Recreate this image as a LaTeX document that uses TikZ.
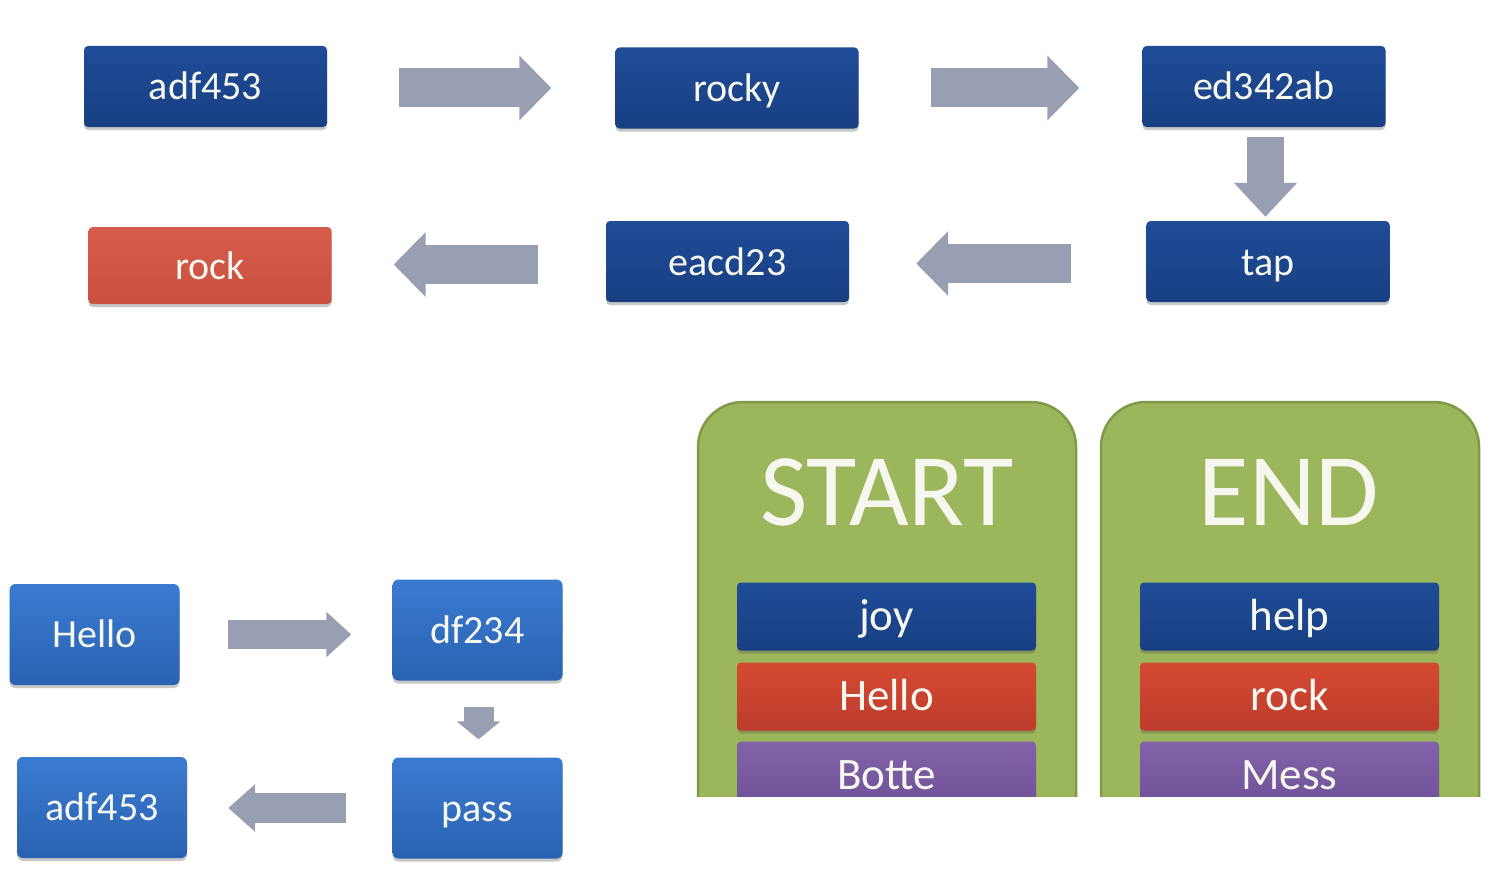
\documentclass[tikz,border=0pt]{standalone}
\usepackage{fontspec}
\setmainfont{Carlito}
\usetikzlibrary{arrows.meta,shadows,calc}
\definecolor{dkblueT}{HTML}{1F4C98}
\definecolor{dkblueB}{HTML}{183F82}
\definecolor{mdblueT}{HTML}{3A7BD0}
\definecolor{mdblueB}{HTML}{2A62B2}
\definecolor{redT}{HTML}{D65C4B}
\definecolor{redB}{HTML}{CA5040}
\definecolor{iredT}{HTML}{D44A33}
\definecolor{iredB}{HTML}{BD3B2B}
\definecolor{purT}{HTML}{8262AA}
\definecolor{purB}{HTML}{6D5197}
\definecolor{greenF}{HTML}{9CB65B}
\definecolor{greenD}{HTML}{7F9B48}
\definecolor{arrgray}{HTML}{989FB3}
\definecolor{txtw}{HTML}{F6F8F0}
\tikzset{
  boxbase/.style={rounded corners=4pt, inner sep=0pt, text=txtw,
    drop shadow={shadow xshift=0pt, shadow yshift=-3pt, opacity=0.3, fill=black!70}},
  topbox/.style={boxbase, top color=dkblueT, bottom color=dkblueB,
    minimum width=243pt, minimum height=81pt, font=\fontsize{40}{40}\selectfont,
    text height=30pt, text depth=3pt},
  redbox/.style={boxbase, top color=redT, bottom color=redB,
    minimum width=243pt, minimum height=77pt, font=\fontsize{40}{40}\selectfont,
    text height=30pt, text depth=3pt},
  smallbox/.style={boxbase, rounded corners=6pt, top color=mdblueT, bottom color=mdblueB,
    minimum width=170pt, minimum height=101pt, font=\fontsize{40}{40}\selectfont,
    text height=30pt, text depth=4pt},
  barbox/.style={boxbase, minimum width=299pt, minimum height=68pt, font=\fontsize{45}{45}\selectfont,
    text height=32pt, text depth=5pt},
  bluebar/.style={barbox, top color=dkblueT, bottom color=dkblueB},
  redbar/.style={barbox, top color=iredT, bottom color=iredB},
  purbar/.style={barbox, top color=purT, bottom color=purB},
  panel/.style={rounded corners=45pt, fill=greenF, draw=greenD, line width=2.5pt},
  paneltitle/.style={text=txtw, font=\fontsize{103}{103}\selectfont, inner sep=0pt, anchor=base},
  bigarrow/.style={line width=39pt, draw=arrgray, -{Triangle[length=32pt, width=63pt]}},
  smallarrow/.style={line width=29pt, draw=arrgray, -{Triangle[length=25pt, width=44pt]}},
  tinyarrow/.style={line width=30pt, draw=arrgray, -{Triangle[length=18pt, width=43pt]}},
}
\begin{document}
\begin{tikzpicture}[x=1pt, y=-1pt]
\useasboundingbox (0,0) rectangle (1503,880);
\fill[white] (0,0) rectangle (1503,880);

% top flow
\node[topbox] (a1) at (205.5,86.5) {adf453};
\node[topbox] (rocky) at (737,88) {rocky};
\node[topbox] (ed) at (1264,86.5) {ed342ab};
\node[topbox] (tap) at (1268,261.5) {tap};
\node[topbox] (eacd) at (727.5,261.5) {eacd23};
\node[redbox] (rock) at (210,265.5) {rock};

\draw[bigarrow] ($(a1.east)+(72,1.5)$) -- ($(rocky.west)+(-64,0)$);
\draw[bigarrow] ($(rocky.east)+(72,0)$) -- ($(rocky.east -| ed.west)+(-63,0)$);
\draw[line width=37pt, draw=arrgray, -{Triangle[length=34pt, width=61pt]}]
  ($(ed.south)+(1.5,10)$) -- ($(ed.south |- tap.north)+(1.5,-4)$);
\draw[bigarrow] ($(tap.west)+(-75,2)$) -- ($(tap.west -| eacd.east)+(67,2)$);
\draw[bigarrow] ($(eacd.west)+(-68,3)$) -- ($(eacd.west -| rock.east)+(62,3)$);

% bottom-left flow
\node[smallbox] (hello) at (94.5,634.5) {Hello};
\node[smallbox] (df) at (477.5,630) {df234};
\node[smallbox] (pass) at (477.5,808) {pass};
\node[smallbox] (a2) at (102,807.5) {adf453};

\draw[smallarrow] ($(hello.east)+(48,0)$) -- ($(hello.east -| df.west)+(-41,0)$);
\draw[tinyarrow] ($(df.south)+(1,26)$) -- ($(pass.north)+(1,-18)$);
\draw[line width=30pt, draw=arrgray, -{Triangle[length=27pt, width=46pt]}]
  ($(pass.west)+(-46,0)$) -- ($(pass.west -| a2.east)+(41,0)$);

% panels
\begin{scope}
\clip (0,0) rectangle (1503,796);
\path[panel] (698,402) rectangle (1076,880);
\path[panel] (1101,402) rectangle (1479,880);
\node[bluebar] (joy) at (886.5,616.5) {joy};
\node[redbar] (hello2) at (886.5,696.5) {Hello};
\node[purbar] (botte) at (886.5,775.5) {Botte};
\node[bluebar] (help) at (1289.5,616.5) {help};
\node[redbar] (rock2) at (1289.5,696.5) {rock};
\node[purbar] (mess) at (1289.5,775.5) {Mess};
\end{scope}
\node[paneltitle] (start) at (887,525) {START};
\node[paneltitle] (end) at (1289,525) {END};
\end{tikzpicture}
\end{document}
